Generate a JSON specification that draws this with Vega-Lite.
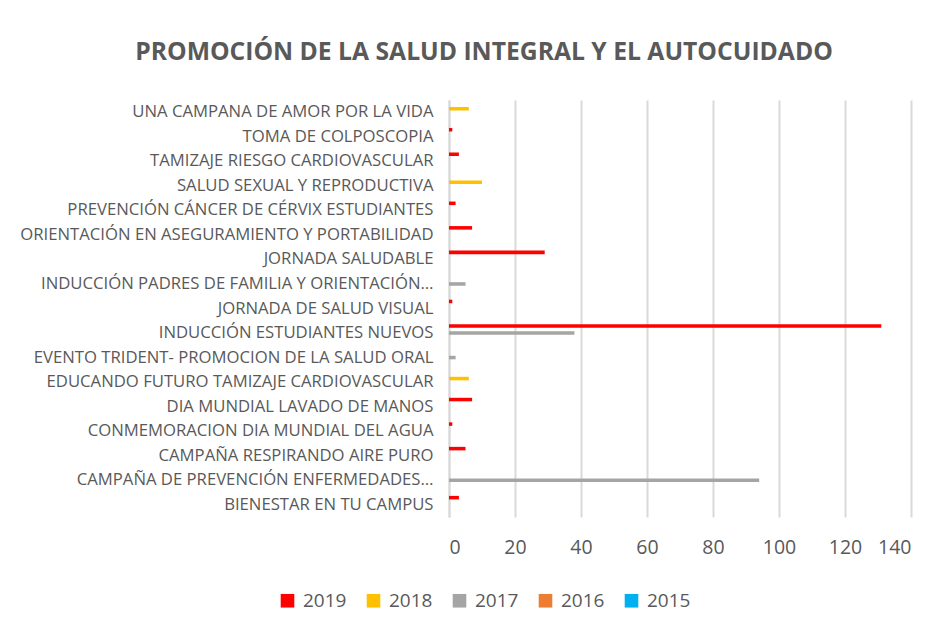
{
  "$schema": "https://vega.github.io/schema/vega-lite/v6.json",
  "width": 462,
  "height": 417,
  "autosize": {"type": "none"},
  "padding": {"left": 449, "top": 100, "right": 31, "bottom": 118},
  "background": "white",
  "title": {
    "text": "PROMOCIÓN DE LA SALUD INTEGRAL Y EL AUTOCUIDADO",
    "font": "Open Sans",
    "fontSize": 24.7,
    "fontWeight": "bold",
    "color": "#595959",
    "anchor": "middle",
    "dx": -196,
    "offset": 35
  },
  "data": {
    "values": [
      {"actividad": "UNA CAMPANA DE AMOR POR LA VIDA ", "anio": "2018", "valor": 6},
      {"actividad": "TOMA DE COLPOSCOPIA", "anio": "2019", "valor": 1},
      {"actividad": "TAMIZAJE RIESGO CARDIOVASCULAR", "anio": "2019", "valor": 3},
      {"actividad": "SALUD SEXUAL Y REPRODUCTIVA ", "anio": "2018", "valor": 10},
      {"actividad": "PREVENCIÓN CÁNCER DE CÉRVIX ESTUDIANTES", "anio": "2019", "valor": 2},
      {"actividad": "ORIENTACIÓN EN ASEGURAMIENTO Y PORTABILIDAD", "anio": "2019", "valor": 7},
      {"actividad": "JORNADA SALUDABLE", "anio": "2019", "valor": 29},
      {"actividad": "INDUCCIÓN PADRES DE FAMILIA Y ORIENTACIÓN…", "anio": "2017", "valor": 5},
      {"actividad": "JORNADA DE SALUD VISUAL", "anio": "2019", "valor": 1},
      {"actividad": "INDUCCIÓN ESTUDIANTES NUEVOS", "anio": "2019", "valor": 131},
      {"actividad": "INDUCCIÓN ESTUDIANTES NUEVOS", "anio": "2017", "valor": 38},
      {"actividad": "EVENTO TRIDENT- PROMOCION DE LA SALUD ORAL", "anio": "2017", "valor": 2},
      {"actividad": "EDUCANDO FUTURO TAMIZAJE CARDIOVASCULAR", "anio": "2018", "valor": 6},
      {"actividad": "DIA MUNDIAL LAVADO DE MANOS", "anio": "2019", "valor": 7},
      {"actividad": "CONMEMORACION DIA MUNDIAL DEL AGUA", "anio": "2019", "valor": 1},
      {"actividad": "CAMPAÑA RESPIRANDO AIRE PURO", "anio": "2019", "valor": 5},
      {"actividad": "CAMPAÑA DE PREVENCIÓN ENFERMEDADES…", "anio": "2017", "valor": 94},
      {"actividad": "BIENESTAR EN TU CAMPUS", "anio": "2019", "valor": 3}
    ]
  },
  "mark": {"type": "bar", "cornerRadius": 0},
  "encoding": {
    "y": {
      "field": "actividad",
      "type": "nominal",
      "sort": [
        "UNA CAMPANA DE AMOR POR LA VIDA ",
        "TOMA DE COLPOSCOPIA",
        "TAMIZAJE RIESGO CARDIOVASCULAR",
        "SALUD SEXUAL Y REPRODUCTIVA ",
        "PREVENCIÓN CÁNCER DE CÉRVIX ESTUDIANTES",
        "ORIENTACIÓN EN ASEGURAMIENTO Y PORTABILIDAD",
        "JORNADA SALUDABLE",
        "INDUCCIÓN PADRES DE FAMILIA Y ORIENTACIÓN…",
        "JORNADA DE SALUD VISUAL",
        "INDUCCIÓN ESTUDIANTES NUEVOS",
        "EVENTO TRIDENT- PROMOCION DE LA SALUD ORAL",
        "EDUCANDO FUTURO TAMIZAJE CARDIOVASCULAR",
        "DIA MUNDIAL LAVADO DE MANOS",
        "CONMEMORACION DIA MUNDIAL DEL AGUA",
        "CAMPAÑA RESPIRANDO AIRE PURO",
        "CAMPAÑA DE PREVENCIÓN ENFERMEDADES…",
        "BIENESTAR EN TU CAMPUS"
      ],
      "scale": {"paddingInner": 0.28, "paddingOuter": 0.14},
      "axis": {
        "title": null,
        "ticks": false,
        "domain": true,
        "domainColor": "#d9d9d9",
        "domainWidth": 2,
        "labelFont": "Open Sans",
        "labelFontSize": 16.7,
        "labelColor": "#595959",
        "labelPadding": 16,
        "labelLimit": 440
      }
    },
    "yOffset": {
      "field": "anio",
      "type": "nominal",
      "scale": {"domain": ["2019", "2018", "2017", "2016", "2015"], "paddingInner": 0, "paddingOuter": 0}
    },
    "x": {
      "field": "valor",
      "type": "quantitative",
      "scale": {"domain": [0, 140], "nice": false},
      "axis": {
        "title": null,
        "values": [0, 20, 40, 60, 80, 100, 120, 140],
        "ticks": false,
        "domain": false,
        "grid": true,
        "gridColor": "#d9d9d9",
        "gridWidth": 2,
        "labelFont": "Open Sans",
        "labelFontSize": 19.5,
        "labelColor": "#595959",
        "labelPadding": 21
      }
    },
    "color": {
      "field": "anio",
      "type": "nominal",
      "scale": {
        "domain": ["2019", "2018", "2017", "2016", "2015"],
        "range": ["#FF0000", "#FFC000", "#A5A5A5", "#ED7D31", "#00B0F0"]
      },
      "legend": {
        "title": null,
        "orient": "none",
        "direction": "horizontal",
        "legendX": -171,
        "legendY": 491,
        "symbolType": "square",
        "symbolSize": 185,
        "symbolStrokeWidth": 0,
        "labelFont": "Open Sans",
        "labelFontSize": 19,
        "labelColor": "#595959",
        "columnPadding": 17,
        "labelOffset": 6
      }
    }
  },
  "config": {
    "view": {"stroke": null}
  }
}
